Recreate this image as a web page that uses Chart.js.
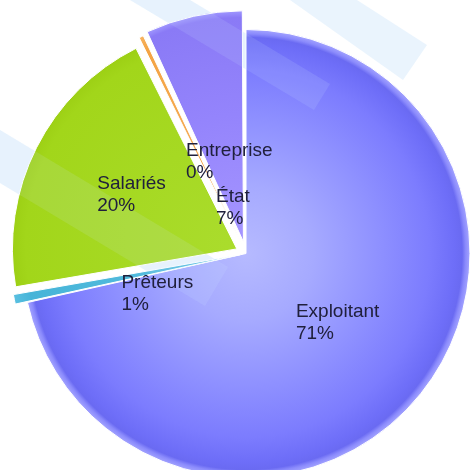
<!DOCTYPE html>
<html>
<head>
<meta charset="utf-8">
<script src="https://cdn.jsdelivr.net/npm/chart.js@4"></script>
<style>
  body { margin: 0; background: #fff; }
  #wrap { width: 471px; height: 470px; position: relative; }
</style>
</head>
<body>
<div id="wrap"><canvas id="myChart"></canvas></div>
<script>
// data
var categories = ['Exploitant', 'Prêteurs', 'Salariés', 'Entreprise', 'État'];
var shares = [71.49, 0.8, 20.3, 0.49, 6.92];

// look
var flatColors = ['#8686ff', '#46b4d8', '#a6d820', '#f4a448', '#9686fc'];
var gradStops = [
  [[0, '#b6baff'], [0.3, '#a6aaff'], [0.6, '#8e90ff'], [0.82, '#7c7cfe'], [0.93, '#6e6ef8'], [0.965, '#6a6af2'], [0.98, '#8a8afc'], [1, '#a4a4ff']],
  [[0, '#5cc0e0'], [0.9, '#46b4d8'], [1, '#60c4e4']],
  [[0, '#aadc2c'], [0.9, '#a2d61a'], [0.965, '#9ccf14'], [1, '#b2de3c']],
  [[0, '#f6b060'], [0.9, '#f4a444'], [1, '#f8bc70']],
  [[0, '#a494ff'], [0.5, '#9484fc'], [0.92, '#8a7af6'], [0.95, '#a098ff'], [1, '#b2aaff']]
];
var sliceOffset = [0, 25, 41, 34, 48];
var pieRadius = 224;
// label anchor: fraction of radius, angle shift (deg) from slice middle
var labelPos = [[0.512, -1.7], [0.408, -14.2], [0.529, 0.5], [0.379, 17.0], [0.158, -4.8]];

var total = shares.reduce(function (a, b) { return a + b; }, 0);

function sliceFill(context) {
  var i = context.dataIndex;
  var chart = context.chart;
  var area = chart.chartArea;
  if (i === undefined || !area) return flatColors[i || 0];
  var before = 0;
  for (var k = 0; k < i; k++) before += shares[k];
  var a0 = before / total * Math.PI * 2 - Math.PI / 2;
  var a1 = (before + shares[i]) / total * Math.PI * 2 - Math.PI / 2;
  var mid = (a0 + a1) / 2;
  var off = sliceOffset[i] / 4;
  var fix = 1 - Math.sin(Math.min(Math.PI, a1 - a0));
  var r = pieRadius + off * fix;
  var cx = (area.left + area.right) / 2 + Math.cos(mid) * off;
  var cy = (area.top + area.bottom) / 2 + Math.sin(mid) * off;
  var g = chart.ctx.createRadialGradient(cx, cy, 0, cx, cy, r);
  gradStops[i].forEach(function (s) { g.addColorStop(s[0], s[1]); });
  return g;
}

function band(c, pts) {
  c.beginPath();
  c.moveTo(pts[0][0], pts[0][1]);
  for (var k = 1; k < pts.length; k++) c.lineTo(pts[k][0], pts[k][1]);
  c.closePath();
  c.fill();
}

var bandA = [[130, 0], [190, 0], [330, 84], [314, 110]];
var bandB = [[290, 0], [357, 0], [427, 45], [403, 80]];
var bandC = [[0, 130], [0, 183], [205, 306], [228, 267]];

var watermark = {
  id: 'watermark',
  beforeDatasetsDraw: function (chart) {
    var c = chart.ctx;
    c.save();
    c.fillStyle = 'rgba(200,225,250,0.38)';
    band(c, bandA); band(c, bandB); band(c, bandC);
    c.restore();
  },
  afterDatasetsDraw: function (chart) {
    var c = chart.ctx;
    c.save();
    c.fillStyle = 'rgba(210,230,255,0.13)';
    band(c, bandA); band(c, bandC);
    c.restore();
  }
};

var sliceLabels = {
  id: 'sliceLabels',
  afterDraw: function (chart) {
    var c = chart.ctx;
    var arcs = chart.getDatasetMeta(0).data;
    c.save();
    c.font = '19px "Liberation Sans", Arial, sans-serif';
    c.fillStyle = '#20203c';
    c.textBaseline = 'middle';
    c.textAlign = 'left';
    arcs.forEach(function (arc, i) {
      var p = arc.getProps(['x', 'y', 'startAngle', 'endAngle'], true);
      var mid = (p.startAngle + p.endAngle) / 2;
      var off = (arc.options.offset || 0) / 4;
      var cx = p.x + Math.cos(mid) * off;
      var cy = p.y + Math.sin(mid) * off;
      var ang = mid + labelPos[i][1] * Math.PI / 180;
      var d = labelPos[i][0] * pieRadius;
      var lx = cx + Math.cos(ang) * d;
      var ly = cy + Math.sin(ang) * d;
      var pct = Math.round(shares[i] / total * 100) + '%';
      var w = Math.max(c.measureText(categories[i]).width, c.measureText(pct).width);
      c.fillText(categories[i], lx - w / 2, ly - 11);
      c.fillText(pct, lx - w / 2, ly + 11);
    });
    c.restore();
  }
};

var ctx = document.getElementById('myChart').getContext('2d');
var chart = new Chart(ctx, {
  type: 'pie',
  data: {
    labels: categories,
    datasets: [{
      data: shares,
      backgroundColor: sliceFill,
      borderColor: '#ffffff',
      borderWidth: 1,
      offset: sliceOffset,
      hoverOffset: 0,
      radius: pieRadius
    }]
  },
  options: {
    responsive: true,
    maintainAspectRatio: false,
    animation: false,
    layout: { padding: { left: 21, right: 0, top: 37, bottom: 0 } },
    plugins: {
      legend: { display: false },
      tooltip: { enabled: false }
    }
  },
  plugins: [watermark, sliceLabels]
});
</script>
</body>
</html>
